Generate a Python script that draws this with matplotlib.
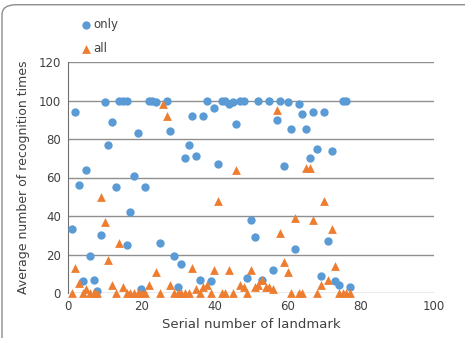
import matplotlib
matplotlib.use("Agg")
import matplotlib.pyplot as plt
from matplotlib.patches import FancyBboxPatch

# "only" series (blue circles)
only_x = [1, 2, 3, 4, 5, 6, 7, 8, 9, 10, 11, 12, 13, 14, 15, 16, 16, 17, 18, 19,
          20, 21, 22, 23, 24, 25, 27, 28, 29, 30, 31, 32, 33, 34, 35, 36, 37, 38, 39, 40,
          41, 42, 43, 44, 45, 46, 47, 48, 49, 50, 51, 52, 53, 55, 56, 57, 58, 59, 60, 61,
          62, 63, 64, 65, 66, 67, 68, 69, 70, 71, 72, 73, 74, 75, 76, 77]
only_y = [33, 94, 56, 6, 64, 19, 7, 1, 30, 99, 77, 89, 55, 100, 100, 100, 25, 42, 61, 83,
          2, 55, 100, 100, 99, 26, 100, 84, 19, 3, 15, 70, 77, 92, 71, 7, 92, 100, 6, 96,
          67, 100, 100, 98, 99, 88, 100, 100, 8, 38, 29, 100, 7, 100, 12, 90, 100, 66, 99, 85,
          23, 98, 93, 85, 70, 94, 75, 9, 94, 27, 74, 6, 4, 100, 100, 3]

# "all" series (orange triangles)
all_x = [1, 2, 3, 4, 5, 6, 7, 8, 9, 10, 11, 12, 13, 14, 15, 16, 17, 18, 19, 20,
         21, 22, 24, 25, 26, 27, 28, 29, 30, 31, 32, 33, 34, 35, 36, 37, 38, 39, 40, 41,
         42, 43, 44, 45, 46, 47, 48, 49, 50, 51, 52, 53, 54, 55, 56, 57, 58, 59, 60, 61,
         62, 63, 64, 65, 66, 67, 68, 69, 70, 71, 72, 73, 74, 75, 76, 77]
all_y = [0, 13, 5, 0, 2, 0, 0, 0, 50, 37, 17, 4, 0, 26, 3, 0, 0, 0, 0, 0,
         0, 4, 11, 0, 98, 92, 4, 0, 0, 0, 0, 0, 13, 2, 0, 3, 4, 0, 12, 48,
         0, 0, 12, 0, 64, 4, 3, 0, 12, 3, 4, 7, 3, 3, 2, 95, 31, 16, 11, 0,
         39, 0, 0, 65, 65, 38, 0, 4, 48, 7, 33, 14, 0, 0, 0, 0]

x_ticks = [0, 20, 40, 60, 80, 100]
y_ticks = [0, 20, 40, 60, 80, 100, 120]

blue = "#5B9BD5"
orange = "#ED7D31"
text_c = "#404040"

fig = plt.figure(figsize=(4.65, 3.38), dpi=100)
border = FancyBboxPatch((2 / 465, -0.2), 1.2, 1.186,
                        boxstyle="round,pad=0,rounding_size=0.03",
                        transform=fig.transFigure, fill=False,
                        edgecolor="#8c8c8c", linewidth=1.0)
fig.patches.append(border)

ax = fig.add_axes([68 / 465, 45 / 338, 366 / 465, 231 / 338])
ax.set_xlim(0, 100)
ax.set_ylim(0, 120)
ax.set_xticks(x_ticks)
ax.set_yticks(y_ticks)
ax.yaxis.grid(True, color="#8f8f8f", linewidth=1.0)
ax.set_axisbelow(True)
for s in ["top", "right", "bottom"]:
    ax.spines[s].set_visible(False)
ax.spines["left"].set_color("#6f6f6f")
ax.tick_params(axis="both", length=0, labelsize=8.5, colors=text_c, pad=5)

ax.scatter(only_x, only_y, s=36, marker="o", color=blue, label="only",
           linewidths=0, zorder=3, clip_on=False)
ax.scatter(all_x, all_y, s=40, marker="^", color=orange, label="all",
           linewidths=0, zorder=4, clip_on=False)

ax.set_xlabel("Serial number of landmark", fontsize=9.5, color=text_c, labelpad=4)
ax.set_ylabel("Average number of recognition times", fontsize=9, color=text_c, labelpad=6)

fig.legend(loc="upper left", bbox_to_anchor=(80 / 465, 1 - 18 / 338), frameon=False,
           fontsize=8.5, labelcolor=text_c, handletextpad=0.1, handlelength=1.0,
           labelspacing=0.95, borderaxespad=0, borderpad=0)

fig.savefig("out.png", dpi=100)
